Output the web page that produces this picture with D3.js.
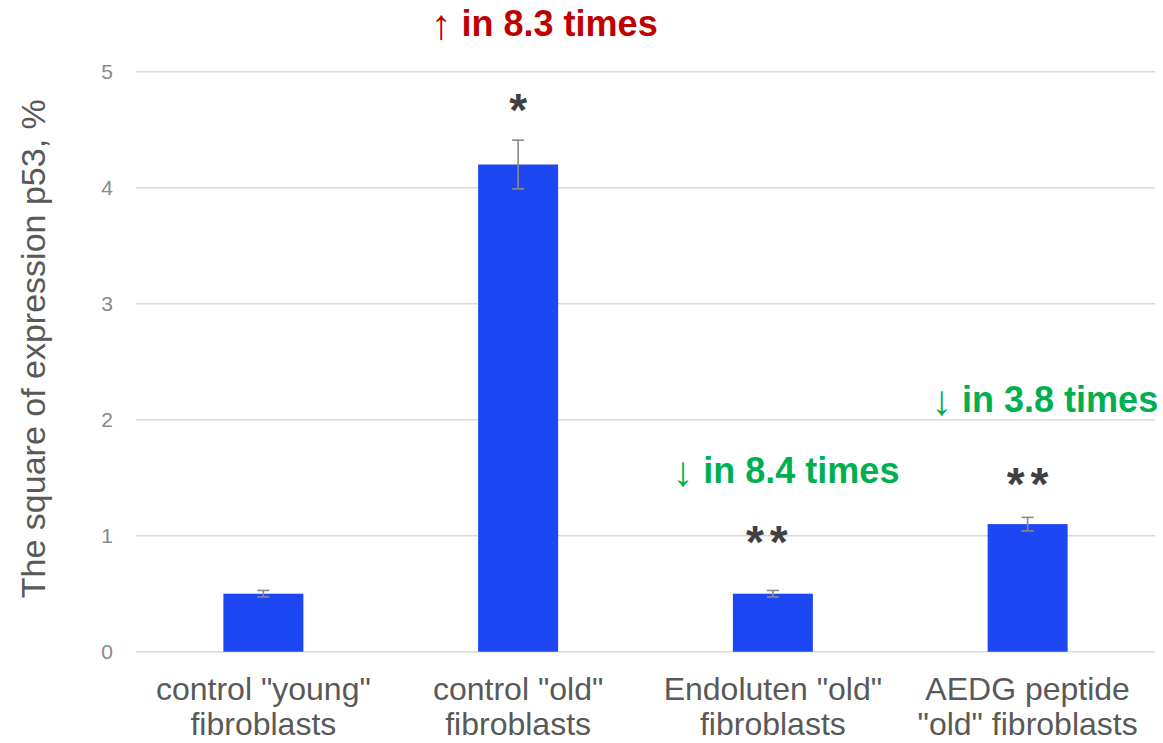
<!DOCTYPE html>
<html>
<head>
<meta charset="utf-8">
<script src="https://cdn.jsdelivr.net/npm/d3@7"></script>
<style>
  body { margin: 0; background: #fff; }
  svg { display: block; font-family: "Liberation Sans", Arial, sans-serif; }
</style>
</head>
<body>
<div id="chart"></div>
<script>
// data
const categories = [
  ["control \"young\"", "fibroblasts"],
  ["control \"old\"", "fibroblasts"],
  ["Endoluten \"old\"", "fibroblasts"],
  ["AEDG peptide", "\"old\" fibroblasts"]
];
const values = [0.5, 4.2, 0.5, 1.1];
const errors = [0.028, 0.21, 0.028, 0.058];
const stars = ["", "*", "**", "**"];
const yTicks = [0, 1, 2, 3, 4, 5];
const notes = [
  { bar: 1, arrow: "\u2191", text: " in 8.3 times", color: "#C00000" },
  { bar: 2, arrow: "\u2193", text: " in 8.4 times", color: "#00B050" },
  { bar: 3, arrow: "\u2193", text: " in 3.8 times", color: "#00B050" }
];

const width = 1163, height = 743;
const mLeft = 136, mRight = 1155, mTop = 71.7, mBottom = 651.7;

const svg = d3.select("#chart").append("svg")
  .attr("width", width)
  .attr("height", height);

const x = d3.scaleBand()
  .domain(d3.range(categories.length))
  .range([mLeft, mRight])
  .paddingInner(0.686)
  .paddingOuter(0.343);

const y = d3.scaleLinear()
  .domain([0, 5])
  .range([mBottom, mTop]);

// gridlines
svg.append("g")
  .selectAll("line")
  .data(yTicks)
  .enter()
  .append("line")
  .attr("x1", mLeft)
  .attr("x2", mRight)
  .attr("y1", d => y(d))
  .attr("y2", d => y(d))
  .attr("stroke", "#d9d9d9")
  .attr("stroke-width", 1.5);

// y tick labels
const yAxis = svg.append("g")
  .attr("transform", `translate(${mLeft - 23},0)`)
  .call(d3.axisLeft(y).tickValues(yTicks).tickSize(0).tickPadding(0).tickFormat(d3.format("d")));
yAxis.select(".domain").remove();
yAxis.selectAll("text")
  .attr("fill", "#898989")
  .style("font-size", "21px")
  .style("font-family", "'Liberation Sans', Arial, sans-serif");

// y title
svg.append("text")
  .attr("transform", `translate(45,${(mTop + mBottom) / 2 - 13}) rotate(-90)`)
  .attr("text-anchor", "middle")
  .attr("fill", "#595959")
  .style("font-size", "34px")
  .text("The square of expression p53, %");

// bars
svg.selectAll(".bar")
  .data(values)
  .enter()
  .append("rect")
  .attr("class", "bar")
  .attr("x", (d, i) => x(i))
  .attr("y", d => y(d))
  .attr("width", x.bandwidth())
  .attr("height", d => y(0) - y(d))
  .attr("fill", "#1D47F2");

// error bars
const eb = svg.selectAll(".err")
  .data(values)
  .enter()
  .append("g")
  .attr("class", "err")
  .attr("stroke", "#8a8a8a")
  .attr("stroke-width", 1.6);
const cx = i => x(i) + x.bandwidth() / 2;
eb.append("line")
  .attr("x1", (d, i) => cx(i)).attr("x2", (d, i) => cx(i))
  .attr("y1", (d, i) => y(d + errors[i])).attr("y2", (d, i) => y(d - errors[i]));
eb.append("line")
  .attr("x1", (d, i) => cx(i) - 6).attr("x2", (d, i) => cx(i) + 6)
  .attr("y1", (d, i) => y(d + errors[i])).attr("y2", (d, i) => y(d + errors[i]));
eb.append("line")
  .attr("x1", (d, i) => cx(i) - 6).attr("x2", (d, i) => cx(i) + 6)
  .attr("y1", (d, i) => y(d - errors[i])).attr("y2", (d, i) => y(d - errors[i]));

// significance stars (gap above the error bar differs per bar in the original)
const starGap = [0, 14, 32, 17];
const starDx = [0, 3, -3, 3];
svg.selectAll(".star")
  .data(values)
  .enter()
  .append("text")
  .attr("class", "star")
  .attr("x", (d, i) => cx(i) + starDx[i])
  .attr("y", (d, i) => y(d + errors[i]) - starGap[i])
  .attr("text-anchor", "middle")
  .attr("fill", "#404040")
  .style("font-size", "46px")
  .style("font-weight", "bold")
  .style("letter-spacing", "6px")
  .text((d, i) => stars[i]);

// x labels
const xl = svg.selectAll(".xlab")
  .data(categories)
  .enter()
  .append("text")
  .attr("class", "xlab")
  .attr("text-anchor", "middle")
  .attr("fill", "#595959")
  .style("font-size", "32px");
xl.selectAll("tspan")
  .data((d, i) => d.map(t => ({ t, i })))
  .enter()
  .append("tspan")
  .attr("x", d => cx(d.i))
  .attr("y", (d, j) => mBottom + 48 + j * 35)
  .text(d => d.t);

// fold-change annotations
const noteY = [36, 483, 412];
const noteDx = [26, 13, 17];
const nt = svg.selectAll(".note")
  .data(notes)
  .enter()
  .append("text")
  .attr("class", "note")
  .attr("x", (d, i) => cx(d.bar) + noteDx[i])
  .attr("y", (d, i) => noteY[i])
  .attr("text-anchor", "middle")
  .attr("fill", d => d.color)
  .style("font-size", "36px");
nt.append("tspan")
  .style("font-weight", "normal")
  .style("font-size", "42px")
  .attr("dy", 3)
  .text(d => d.arrow);
nt.append("tspan")
  .style("font-weight", "bold")
  .attr("dy", -3)
  .text(d => d.text);
</script>
</body>
</html>
